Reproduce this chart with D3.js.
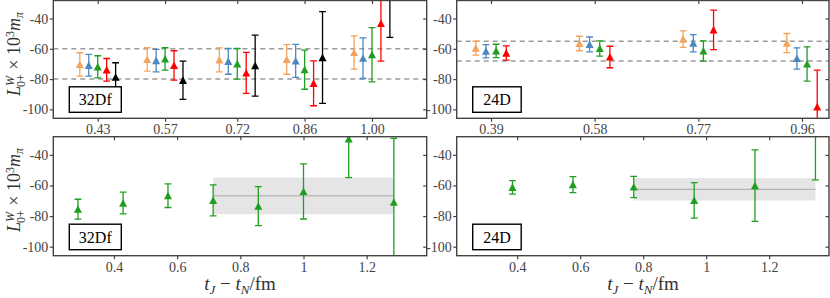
<!DOCTYPE html>
<html>
<head>
<meta charset="utf-8">
<script src="https://cdn.jsdelivr.net/npm/d3@7"></script>
<style>
  body { margin: 0; background: #fff; }
  svg { display: block; }
  text { font-family: "Liberation Serif", "DejaVu Serif", serif; }
</style>
</head>
<body>
<div id="wrapper"></div>
<script>
// ---- data ----
const seriesColors = ['#f5a25d', '#4a88c2', '#1f9e1f', '#ff0000', '#000000']

// top left: 32Df, grouped by t
const top32Ticks = [0.43, 0.57, 0.72, 0.86, 1.00]
const top32Values = [
  [-70.3, -67.0, -67.3, -67.0, -62.4],
  [-70.9, -67.8, -68.3, -68.0, -66.2],
  [-71.9, -66.7, -69.9, -73.8, -63.9],
  [-73.9, -71.0, -75.9, -82.8, -43.3],
  [-78.8, -80.8, -71.1, -65.8, -20.0],
]
const top32Errors = [
  [7.7, 7.7, 7.9, 9.8, 11.0],
  [7.2, 7.4, 8.5, 10.9, 13.4],
  [7.3, 7.4, 10.1, 12.9, 17.9],
  [7.5, 9.7, 13.5, 14.8, 24.8],
  [9.6, 12.6, 20.1, 30.3, 32.5],
]
const top32Guides = [-60, -80]

// top right: 24D
const top24Ticks = [0.39, 0.58, 0.77, 0.96]
const top24Values = [
  [-59.6, -56.5, -53.6, -56.2],
  [-61.6, -57.1, -56.3, -66.4],
  [-61.4, -59.8, -61.4, -70.0],
  [-62.8, -65.4, -47.5, -98.3],
]
const top24Errors = [
  [4.6, 4.8, 5.5, 6.3],
  [4.4, 4.9, 5.7, 7.0],
  [4.4, 5.1, 6.7, 11.3],
  [4.7, 7.1, 13.0, 24.2],
]
const top24Guides = [-55, -68]

// bottom left: 32Df vs t_J - t_N
const bot32T = [0.286, 0.429, 0.571, 0.714, 0.857, 1.0, 1.143, 1.286]
const bot32Values = [-75.5, -71.5, -66.7, -69.7, -73.5, -63.9, -29.5, -70.9]
const bot32Errors = [6.5, 7.1, 7.7, 10.1, 12.8, 18.0, 25.3, 41.7]
const bot32Fit = { from: 0.714, to: 1.286, value: -66.8, error: 12.0 }

// bottom right: 24D
const bot24T = [0.385, 0.577, 0.77, 0.962, 1.155, 1.347]
const bot24Values = [-61.2, -59.4, -61.0, -69.7, -60.1, -20.0]
const bot24Errors = [4.4, 5.2, 6.9, 11.6, 23.4, 36.3]
const bot24Fit = { from: 0.77, to: 1.347, value: -62.5, error: 7.3 }

const yTicks = [-40, -60, -80, -100]
const bottomTicks = [0.4, 0.6, 0.8, 1, 1.2]

// ---- layout ----
const dimensions = { width: 830, height: 298 }
const axisColor = '#444'
const groupStep = 0.0186   // shift between series inside a group (fm)

const wrapper = d3.select('#wrapper')
                  .append('svg')
                  .attr('width', dimensions.width)
                  .attr('height', dimensions.height)

const panels = [
  { id: 'tl', label: '32Df', x: [53.3, 426.7], y: [0.5, 118.3], xDomain: [0.3377, 1.1137], ticks: top32Ticks, fmt: d3.format('.2f'),
    grouped: { values: top32Values, errors: top32Errors }, guides: top32Guides, boxW: 52 },
  { id: 'tr', label: '24D', x: [456.7, 829], y: [0.5, 118.3], xDomain: [0.3271, 1.0095], ticks: top24Ticks, fmt: d3.format('.2f'),
    grouped: { values: top24Values, errors: top24Errors }, guides: top24Guides, boxW: 48.5 },
  { id: 'bl', label: '32Df', x: [53.3, 426.7], y: [136.7, 255.7], xDomain: [0.208, 1.39], ticks: bottomTicks, fmt: d => String(d),
    single: { t: bot32T, values: bot32Values, errors: bot32Errors }, fit: bot32Fit, boxW: 52 },
  { id: 'br', label: '24D', x: [456.7, 829], y: [136.7, 255.7], xDomain: [0.208, 1.39], ticks: bottomTicks, fmt: d => String(d),
    single: { t: bot24T, values: bot24Values, errors: bot24Errors }, fit: bot24Fit, boxW: 48.5 },
]

const triangle = (cx, cy) => `M${cx},${cy - 4} L${cx + 4},${cy + 3.6} L${cx - 4},${cy + 3.6} Z`

function drawPoint(g, xScale, yScale, t, v, e, color) {
  const x = xScale(t)
  g.append('line')
   .attr('x1', x).attr('x2', x)
   .attr('y1', yScale(v - e)).attr('y2', yScale(v + e))
   .attr('stroke', color).attr('stroke-width', 1.3)
  ;[v - e, v + e].forEach(c => {
    g.append('line')
     .attr('x1', x - 3.4).attr('x2', x + 3.4)
     .attr('y1', yScale(c)).attr('y2', yScale(c))
     .attr('stroke', color).attr('stroke-width', 1.3)
  })
  g.append('path').attr('d', triangle(x, yScale(v))).attr('fill', color)
}

panels.forEach(p => {
  const xScale = d3.scaleLinear().domain(p.xDomain).range(p.x)
  const yScale = d3.scaleLinear().domain([-105.9, -28.1]).range([p.y[1], p.y[0]])

  wrapper.append('clipPath').attr('id', 'clip-' + p.id)
         .append('rect')
         .attr('x', p.x[0]).attr('y', p.y[0])
         .attr('width', p.x[1] - p.x[0]).attr('height', p.y[1] - p.y[0])

  const plot = wrapper.append('g').attr('clip-path', `url(#clip-${p.id})`)

  // fit band
  if (p.fit) {
    plot.append('rect')
        .attr('x', xScale(p.fit.from))
        .attr('width', xScale(p.fit.to) - xScale(p.fit.from))
        .attr('y', yScale(p.fit.value + p.fit.error))
        .attr('height', yScale(p.fit.value - p.fit.error) - yScale(p.fit.value + p.fit.error))
        .attr('fill', '#e5e5e5')
    plot.append('line')
        .attr('x1', xScale(p.fit.from)).attr('x2', xScale(p.fit.to))
        .attr('y1', yScale(p.fit.value)).attr('y2', yScale(p.fit.value))
        .attr('stroke', '#a8a8a8').attr('stroke-width', 1)
  }

  // dashed guides
  if (p.guides) {
    plot.selectAll('.guide')
        .data(p.guides)
        .enter()
        .append('line')
        .attr('x1', p.x[0]).attr('x2', p.x[1])
        .attr('y1', d => yScale(d)).attr('y2', d => yScale(d))
        .attr('stroke', '#9a9a9a').attr('stroke-width', 1.5)
        .attr('stroke-dasharray', '5,4')
  }

  if (p.grouped) {
    const n = p.grouped.values.length
    p.grouped.values.forEach((row, s) => {
      row.forEach((v, i) => {
        const t = p.ticks[i] + (s - (n - 1) / 2) * groupStep
        drawPoint(plot, xScale, yScale, t, v, p.grouped.errors[s][i], seriesColors[s])
      })
    })
  }

  if (p.single) {
    p.single.t.forEach((t, i) => {
      drawPoint(plot, xScale, yScale, t, p.single.values[i], p.single.errors[i], seriesColors[2])
    })
  }

  // axes
  const left = wrapper.append('g')
                      .attr('transform', `translate(${p.x[0]},0)`)
                      .call(d3.axisLeft(yScale).tickValues(yTicks).tickSize(3.5).tickSizeOuter(0).tickPadding(1.5).tickFormat(d => String(d)))
  const right = wrapper.append('g')
                       .attr('transform', `translate(${p.x[1]},0)`)
                       .call(d3.axisRight(yScale).tickValues(yTicks).tickSize(-3.5).tickSizeOuter(0).tickFormat(''))
  const bottom = wrapper.append('g')
                        .attr('transform', `translate(0,${p.y[1]})`)
                        .call(d3.axisBottom(xScale).tickValues(p.ticks).tickSize(3.5).tickSizeOuter(0).tickPadding(2.5).tickFormat(p.fmt))
  const top = wrapper.append('g')
                     .attr('transform', `translate(0,${p.y[0]})`)
                     .call(d3.axisTop(xScale).tickValues(p.ticks).tickSize(-3.5).tickSizeOuter(0).tickFormat(''))

  ;[left, right, bottom, top].forEach(a => {
    a.select('.domain').remove()
    a.selectAll('line').attr('stroke', axisColor).attr('stroke-width', 1.2)
    a.selectAll('text').attr('fill', axisColor).style('font-size', '14px')
      .style('font-family', '"Liberation Serif", serif')
  })

  wrapper.append('rect')
         .attr('x', p.x[0]).attr('y', p.y[0])
         .attr('width', p.x[1] - p.x[0]).attr('height', p.y[1] - p.y[0])
         .attr('fill', 'none').attr('stroke', axisColor).attr('stroke-width', 1.4)

  // label box
  wrapper.append('rect')
         .attr('x', p.x[0] + 16).attr('y', p.y[1] - 31.5)
         .attr('width', p.boxW).attr('height', 25.5)
         .attr('fill', '#fff').attr('stroke', '#000').attr('stroke-width', 1.4)
  wrapper.append('text')
         .attr('x', p.x[0] + 16 + p.boxW / 2).attr('y', p.y[1] - 13)
         .attr('text-anchor', 'middle')
         .style('font-size', '16px')
         .text(p.label)
})

// y axis titles
function yTitle(cy) {
  const t = wrapper.append('text')
                   .attr('transform', `translate(20,${cy}) rotate(-90)`)
                   .attr('text-anchor', 'middle')
                   .attr('fill', '#333')
                   .style('font-size', '18px')
  t.append('tspan').style('font-style', 'italic').text('L')
  t.append('tspan').style('font-style', 'italic').style('font-size', '12px').attr('dy', -6).text('W')
  t.append('tspan').style('font-size', '12px').attr('dx', -11).attr('dy', 11).text('0+')
  t.append('tspan').attr('dy', -5).text(' × 10')
  t.append('tspan').style('font-size', '12px').attr('dy', -6).text('3')
  t.append('tspan').style('font-style', 'italic').attr('dy', 6).text('m')
  t.append('tspan').style('font-style', 'italic').style('font-size', '12px').attr('dy', 3).text('π')
}
yTitle(54)
yTitle(190)

// x axis titles
function xTitle(cx) {
  const t = wrapper.append('text')
                   .attr('x', cx).attr('y', 290)
                   .attr('text-anchor', 'middle')
                   .attr('fill', '#333')
                   .style('font-size', '19px')
  t.append('tspan').style('font-style', 'italic').text('t')
  t.append('tspan').style('font-style', 'italic').style('font-size', '13px').attr('dy', 4).text('J')
  t.append('tspan').attr('dy', -4).text(' − ')
  t.append('tspan').style('font-style', 'italic').text('t')
  t.append('tspan').style('font-style', 'italic').style('font-size', '13px').attr('dy', 4).text('N')
  t.append('tspan').attr('dy', -4).text('/fm')
}
xTitle(240)
xTitle(643)
</script>
</body>
</html>
